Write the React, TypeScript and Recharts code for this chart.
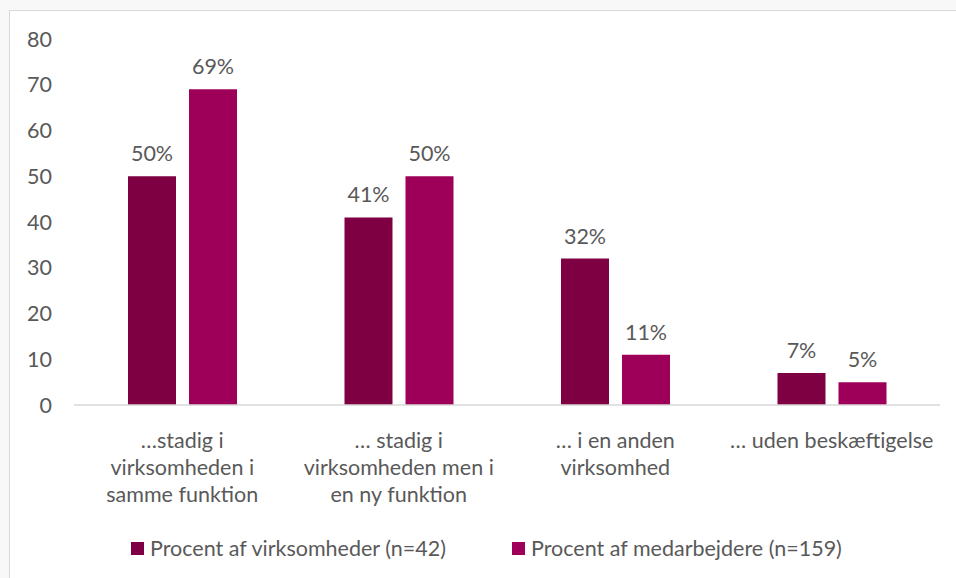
import React from "react";
import { BarChart, Bar, XAxis, YAxis, LabelList, Legend } from "recharts";

const categories = ["c1", "c2", "c3", "c4"];
const categoryLines: string[][] = [
  ["…stadig i", "virksomheden i", "samme funktion"],
  ["… stadig i", "virksomheden men i", "en ny funktion"],
  ["… i en anden", "virksomhed"],
  ["… uden beskæftigelse"],
];
const virksomheder = [50, 41, 32, 7];
const medarbejdere = [69, 50, 11, 5];
const seriesNames = ["Procent af virksomheder (n=42)", "Procent af medarbejdere (n=159)"];
const yTicks = [0, 10, 20, 30, 40, 50, 60, 70, 80];

const colors = ["#7F0042", "#9E0059"];
const FONT = "Lato, 'Open Sans', sans-serif";
const TEXT = "#595959";
const FS = 21.5;

const data = categories.map((c, i) => ({
  key: c,
  v: virksomheder[i],
  m: medarbejdere[i],
}));

const CatTick = (props: any) => {
  const { x, y, payload } = props;
  const lines = categoryLines[payload.index] || [];
  return (
    <text x={x} y={y} textAnchor="middle" fill={TEXT} fontSize={FS} fontFamily={FONT}>
      {lines.map((l, i) => (
        <tspan key={i} x={x} dy={i === 0 ? 35 : 27}>
          {l}
        </tspan>
      ))}
    </text>
  );
};

const LegendContent = () => (
  <div style={{ display: "flex", justifyContent: "flex-start", paddingLeft: 131, fontFamily: FONT, fontSize: FS, color: TEXT }}>
    {seriesNames.map((n, i) => (
      <div key={n} style={{ display: "flex", alignItems: "center", marginRight: i === 0 ? 66 : 0 }}>
        <span style={{ display: "inline-block", width: 13, height: 13, background: colors[i], marginRight: 6 }} />
        <span>{n}</span>
      </div>
    ))}
  </div>
);

export default function App() {
  return (
    <div style={{ position: "absolute", left: 0, top: 0, width: 956, height: 578, background: "#f8f8f8", overflow: "hidden" }}>
      <div
        style={{
          position: "absolute",
          left: 9,
          top: 10,
          right: 0,
          bottom: 0,
          background: "#ffffff",
          borderLeft: "1.5px solid #d9d9d9",
          borderTop: "1.5px solid #d9d9d9",
        }}
      />
      <div style={{ position: "absolute", left: 0, top: 0 }}>
        <BarChart
          width={956}
          height={578}
          data={data}
          margin={{ top: 39, right: 16, bottom: 3, left: 0 }}
          barSize={48}
          barGap={13}
        >
          <XAxis
            dataKey="key"
            axisLine={{ stroke: "#d9d9d9", strokeWidth: 1.5 }}
            tickLine={false}
            tick={<CatTick />}
            height={130}
            interval={0}
          />
          <YAxis
            domain={[0, 80]}
            ticks={yTicks}
            axisLine={false}
            tickLine={false}
            tickSize={0}
            tickMargin={22}
            width={74}
            tick={{ fill: TEXT, fontSize: FS, fontFamily: FONT }}
          />
          <Legend verticalAlign="bottom" height={40} content={<LegendContent />} />
          <Bar dataKey="v" name={seriesNames[0]} fill={colors[0]} isAnimationActive={false}>
            <LabelList dataKey="v" position="top" offset={15} formatter={(v: any) => `${v}%`} fill={TEXT} fontSize={FS} fontFamily={FONT} />
          </Bar>
          <Bar dataKey="m" name={seriesNames[1]} fill={colors[1]} isAnimationActive={false}>
            <LabelList dataKey="m" position="top" offset={15} formatter={(v: any) => `${v}%`} fill={TEXT} fontSize={FS} fontFamily={FONT} />
          </Bar>
        </BarChart>
      </div>
    </div>
  );
}
